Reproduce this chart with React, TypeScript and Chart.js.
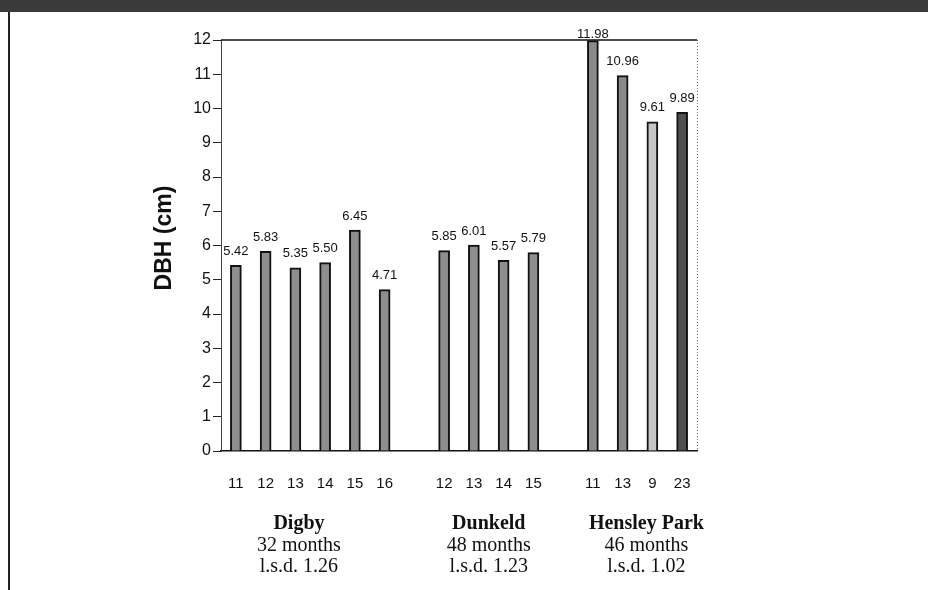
import { useEffect, useRef } from 'react';
import { Chart, registerables } from 'chart.js';

Chart.register(...registerables);

// ---- data ----
const categories = ['11', '12', '13', '14', '15', '16', '', '12', '13', '14', '15', '', '11', '13', '9', '23'];
const dbhValues: (number | null)[] = [5.42, 5.83, 5.35, 5.5, 6.45, 4.71, null, 5.85, 6.01, 5.57, 5.79, null, 11.98, 10.96, 9.61, 9.89];
const barShades = ['#8e8e8e', '#8e8e8e', '#8e8e8e', '#8e8e8e', '#8e8e8e', '#8e8e8e', '#8e8e8e', '#8e8e8e', '#8e8e8e', '#8e8e8e', '#8e8e8e', '#8e8e8e', '#8a8a8a', '#8a8a8a', '#c6c6c6', '#505050'];
const yTickValues = [0, 1, 2, 3, 4, 5, 6, 7, 8, 9, 10, 11, 12];
const groupNames = ['Digby', 'Dunkeld', 'Hensley Park'];
const groupDurations = ['32 months', '48 months', '46 months'];
const groupLsd = ['l.s.d. 1.26', 'l.s.d. 1.23', 'l.s.d. 1.02'];

const SANS = '"Liberation Sans", Arial, sans-serif';
const SERIF = '"Liberation Serif", "Times New Roman", serif';

const decorPlugin = {
  id: 'decor',
  beforeDraw(chart: any) {
    const ctx = chart.ctx;
    ctx.save();
    ctx.fillStyle = '#ffffff';
    ctx.fillRect(0, 0, chart.width, chart.height);
    ctx.fillStyle = '#3a3a3a';
    ctx.fillRect(0, 0, chart.width, 12);
    ctx.fillStyle = '#222222';
    ctx.fillRect(8, 12, 2, chart.height - 12);
    ctx.restore();
  },
  afterDraw(chart: any) {
    const ctx = chart.ctx;
    const area = chart.chartArea;
    const xs = chart.scales.x;
    ctx.save();
    // top frame line
    ctx.strokeStyle = '#111';
    ctx.lineWidth = 1.5;
    ctx.beginPath();
    ctx.moveTo(area.left, area.top);
    ctx.lineTo(area.right, area.top);
    ctx.stroke();
    // right dotted frame line
    ctx.strokeStyle = '#666';
    ctx.lineWidth = 1;
    ctx.setLineDash([1, 2]);
    ctx.beginPath();
    ctx.moveTo(area.right + 0.5, area.top);
    ctx.lineTo(area.right + 0.5, area.bottom);
    ctx.stroke();
    ctx.setLineDash([]);

    // value labels
    const meta = chart.getDatasetMeta(0);
    ctx.fillStyle = '#111';
    ctx.font = `13px ${SANS}`;
    ctx.textAlign = 'center';
    ctx.textBaseline = 'middle';
    meta.data.forEach((el: any, i: number) => {
      const v = dbhValues[i];
      if (v == null) return;
      ctx.fillText(v.toFixed(2), el.x, Math.max(el.y - 14, area.top - 6));
    });

    // y-axis title
    ctx.save();
    ctx.translate(165, 238);
    ctx.rotate(-Math.PI / 2);
    ctx.font = `bold 23px ${SANS}`;
    ctx.fillText('DBH (cm)', 0, 0);
    ctx.restore();

    // group labels
    const anchors = [2.12, 8.5, 13.8];
    anchors.forEach((a, g) => {
      const x = xs.getPixelForValue(a);
      ctx.font = `bold 20px ${SERIF}`;
      ctx.fillText(groupNames[g], x, 524);
      ctx.font = `20px ${SERIF}`;
      ctx.fillText(groupDurations[g], x, 546);
      ctx.fillText(groupLsd[g], x, 567);
    });
    ctx.restore();
  },
};

export default function App() {
  const ref = useRef<HTMLCanvasElement | null>(null);
  useEffect(() => {
    if (!ref.current) return;
    const chart = new Chart(ref.current, {
      type: 'bar',
      data: {
        labels: categories,
        datasets: [
          {
            data: dbhValues as any,
            backgroundColor: barShades,
            borderColor: '#111',
            borderWidth: 2,
            barThickness: 11,
          },
        ],
      },
      options: {
        animation: false,
        responsive: false,
        maintainAspectRatio: false,
        layout: { padding: { left: 0, right: 231, top: 40, bottom: 0 } },
        plugins: { legend: { display: false }, tooltip: { enabled: false } },
        scales: {
          x: {
            type: 'category',
            offset: true,
            grid: { display: false, drawTicks: false },
            border: { display: true, color: '#111', width: 1.5 },
            ticks: {
              color: '#111',
              font: { size: 15, family: SANS },
              padding: 24,
              autoSkip: false,
              maxRotation: 0,
            },
            afterFit(scale: any) {
              scale.height = 139;
            },
          },
          y: {
            min: 0,
            max: 12,
            afterBuildTicks(scale: any) {
              scale.ticks = yTickValues.map((v) => ({ value: v }));
            },
            grid: { drawOnChartArea: false, drawTicks: true, tickLength: 8, color: '#222' },
            border: { display: true, color: '#444', width: 1, dash: [2, 1] },
            ticks: {
              color: '#111',
              font: { size: 16, family: SANS },
              padding: 2,
            },
            afterFit(scale: any) {
              scale.width = 221;
            },
          },
        },
      },
      plugins: [decorPlugin],
    });
    return () => chart.destroy();
  }, []);
  return (
    <div style={{ position: 'absolute', left: 0, top: 0, width: 928, height: 590 }}>
      <canvas ref={ref} width={928} height={590} style={{ display: 'block', width: 928, height: 590 }} />
    </div>
  );
}
